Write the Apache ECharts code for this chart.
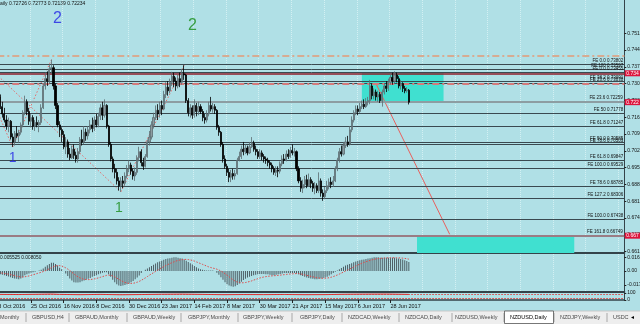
<!DOCTYPE html>
<html><head><meta charset="utf-8">
<script src="https://cdn.jsdelivr.net/npm/echarts@6/dist/echarts.min.js"></script>
<style>html,body{margin:0;padding:0;background:#b0e0e6;}#c{width:640px;height:324px;}</style>
</head><body><div id="c"></div>
<script>
// ---------- DATA ----------
const startDate = [2016, 9, 3];      // 3 Oct 2016, first daily bar
const totalSlots = 307;              // bars + empty future slots shown on the axis
// daily candles: [open, close, low, high]
const candles = [
[.7285,.7245,.7230,.7300],[.7245,.7205,.7195,.7255],[.7205,.7175,.7160,.7225],[.7175,.7150,.7140,.7200],
[.7150,.7125,.7110,.7170],[.7125,.7145,.7100,.7160],[.7145,.7080,.7070,.7150],[.7080,.7060,.7040,.7095],
[.7060,.7095,.7045,.7105],[.7095,.7085,.7075,.7125],[.7085,.7100,.7055,.7110],[.7100,.7130,.7090,.7140],
[.7130,.7180,.7120,.7190],[.7180,.7225,.7170,.7250],[.7225,.7185,.7170,.7235],[.7185,.7145,.7130,.7200],
[.7145,.7160,.7120,.7175],[.7160,.7125,.7110,.7170],[.7125,.7140,.7105,.7150],[.7140,.7130,.7120,.7165],
[.7130,.7140,.7100,.7150],[.7140,.7200,.7130,.7215],[.7200,.7290,.7195,.7300],[.7290,.7320,.7275,.7345],
[.7320,.7310,.7290,.7350],[.7310,.7360,.7300,.7380],[.7360,.7365,.7340,.7398],[.7365,.7290,.7275,.7375],
[.7290,.7210,.7195,.7300],[.7210,.7130,.7120,.7220],[.7130,.7110,.7080,.7145],[.7110,.7090,.7060,.7120],
[.7090,.7040,.7030,.7105],[.7040,.7060,.7010,.7080],[.7060,.7010,.6995,.7070],[.7010,.6995,.6985,.7035],
[.6995,.7030,.6990,.7045],[.7030,.7005,.6990,.7050],[.7005,.6990,.6975,.7020],[.6990,.7020,.6975,.7035],
[.7020,.7070,.7010,.7080],[.7070,.7060,.7045,.7110],[.7060,.7100,.7050,.7125],[.7100,.7085,.7065,.7115],
[.7085,.7110,.7070,.7125],[.7110,.7130,.7095,.7150],[.7130,.7115,.7100,.7160],[.7115,.7150,.7105,.7165],
[.7150,.7130,.7120,.7175],[.7130,.7165,.7120,.7180],[.7165,.7200,.7150,.7215],[.7200,.7170,.7150,.7225],
[.7170,.7210,.7160,.7235],[.7210,.7125,.7115,.7215],[.7125,.7050,.7040,.7130],[.7050,.6990,.6980,.7060],
[.6990,.6950,.6935,.7000],[.6950,.6935,.6910,.6970],[.6935,.6900,.6885,.6950],[.6900,.6880,.6860,.6915],
[.6880,.6900,.6855,.6915],[.6900,.6890,.6870,.6920],[.6890,.6920,.6880,.6935],[.6920,.6950,.6910,.6965],
[.6950,.6965,.6935,.6985],[.6965,.6940,.6925,.6975],[.6940,.6920,.6905,.6950],[.6920,.6935,.6900,.6955],
[.6935,.6995,.6925,.7005],[.6995,.7020,.6980,.7040],[.7020,.6975,.6960,.7030],[.6975,.6960,.6945,.6995],
[.6960,.7000,.6955,.7010],[.7000,.7060,.6995,.7070],[.7060,.7080,.7045,.7105],[.7080,.7130,.7070,.7145],
[.7130,.7160,.7115,.7180],[.7160,.7190,.7150,.7210],[.7190,.7175,.7150,.7215],[.7175,.7210,.7160,.7225],
[.7210,.7195,.7170,.7230],[.7195,.7255,.7190,.7270],[.7255,.7285,.7240,.7305],[.7285,.7270,.7250,.7310],
[.7270,.7305,.7260,.7320],[.7305,.7330,.7290,.7348],[.7330,.7310,.7285,.7345],[.7310,.7290,.7270,.7325],
[.7290,.7320,.7280,.7335],[.7320,.7305,.7285,.7345],[.7305,.7340,.7295,.7360],[.7340,.7335,.7315,.7375],
[.7335,.7230,.7220,.7340],[.7230,.7180,.7165,.7240],[.7180,.7200,.7160,.7215],[.7200,.7170,.7155,.7210],
[.7170,.7210,.7160,.7235],[.7210,.7185,.7165,.7220],[.7185,.7205,.7170,.7225],[.7205,.7185,.7175,.7215],
[.7185,.7160,.7145,.7195],[.7160,.7150,.7135,.7175],[.7150,.7175,.7140,.7190],[.7175,.7210,.7165,.7225],
[.7210,.7195,.7185,.7245],[.7195,.7205,.7180,.7220],[.7205,.7190,.7175,.7215],[.7190,.7120,.7110,.7195],
[.7120,.7100,.7085,.7130],[.7100,.7050,.7040,.7105],[.7050,.6990,.6975,.7060],[.6990,.6960,.6950,.7005],
[.6960,.6935,.6920,.6970],[.6935,.6915,.6895,.6950],[.6915,.6930,.6895,.6945],[.6930,.6920,.6905,.6950],
[.6920,.6930,.6905,.6945],[.6930,.6985,.6925,.6995],[.6985,.7000,.6980,.7020],[.7000,.7030,.6990,.7045],
[.7030,.7020,.7005,.7060],[.7020,.7035,.7010,.7050],[.7035,.7015,.7005,.7045],[.7015,.7040,.7010,.7060],
[.7040,.7055,.7035,.7080],[.7055,.7030,.7020,.7065],[.7030,.7020,.7005,.7045],[.7020,.7000,.6990,.7030],
[.7000,.7015,.6990,.7030],[.7015,.7000,.6985,.7025],[.7000,.6990,.6975,.7010],[.6990,.6985,.6970,.7000],
[.6985,.6975,.6960,.6995],[.6975,.6965,.6950,.6985],[.6965,.6950,.6935,.6975],[.6950,.6935,.6925,.6960],
[.6935,.6945,.6920,.6960],[.6945,.6940,.6915,.6960],[.6940,.6970,.6930,.6980],[.6970,.6990,.6960,.7005],
[.6990,.6985,.6970,.7010],[.6985,.7010,.6980,.7025],[.7010,.7000,.6990,.7030],[.7000,.7025,.6995,.7040],
[.7025,.7015,.7005,.7050],[.7015,.7020,.7000,.7035],[.7020,.6950,.6940,.7025],[.6950,.6900,.6890,.6960],
[.6900,.6870,.6855,.6915],[.6870,.6885,.6850,.6905],[.6885,.6905,.6870,.6920],[.6905,.6880,.6870,.6925],
[.6880,.6905,.6875,.6930],[.6905,.6890,.6870,.6915],[.6890,.6870,.6855,.6900],[.6870,.6880,.6845,.6895],
[.6880,.6860,.6850,.6890],[.6860,.6900,.6850,.6935],[.6900,.6850,.6835,.6910],[.6850,.6835,.6818,.6865],
[.6835,.6860,.6825,.6875],[.6860,.6880,.6850,.6900],[.6880,.6895,.6865,.6910],[.6895,.6885,.6870,.6915],
[.6885,.6900,.6875,.6920],[.6900,.6950,.6895,.6960],[.6950,.6985,.6940,.6995],[.6985,.7020,.6975,.7035],
[.7020,.7010,.7000,.7045],[.7010,.7045,.7005,.7060],[.7045,.7060,.7035,.7080],[.7060,.7050,.7040,.7085],
[.7050,.7110,.7045,.7125],[.7110,.7150,.7100,.7165],[.7150,.7180,.7140,.7190],[.7180,.7195,.7170,.7210],
[.7195,.7185,.7170,.7210],[.7185,.7205,.7180,.7220],[.7205,.7215,.7195,.7230],[.7215,.7205,.7195,.7235],
[.7205,.7225,.7200,.7240],[.7225,.7230,.7210,.7245],[.7230,.7290,.7215,.7315],[.7290,.7250,.7235,.7300],
[.7250,.7265,.7235,.7280],[.7265,.7245,.7230,.7275],[.7245,.7255,.7225,.7270],[.7255,.7230,.7220,.7265],
[.7230,.7265,.7205,.7275],[.7265,.7290,.7255,.7300],[.7290,.7280,.7265,.7310],[.7280,.7305,.7270,.7320],
[.7305,.7325,.7295,.7340],[.7325,.7310,.7295,.7345],[.7310,.7335,.7300,.7350],[.7335,.7320,.7305,.7345],
[.7320,.7290,.7280,.7330],[.7290,.7300,.7275,.7315],[.7300,.7280,.7265,.7305],[.7280,.7270,.7260,.7290],
[.7270,.72726,.7262,.7285],[.72726,.72234,.72139,.72773]
];
// oscillator (MACD-type), values in thousandths
const macdMain = [
-3.5,-4,-4.5,-5,-6,-6.5, -7.5,-8.5,-9,-9.5,-10, -9,-7.5,-5,-4,-3, -2,-1.5,-1,0,0.5,1.5,3, 5,7,8.5,10,
10,8.5,6.5,4,2, 0,-3,-6,-9,-11.5,-13.5, -14,-14,-13.5,-12.5,-11.5,-10.5,-9.5,-8.5,-7,-6,-5,-4,
-3,-2,-1.5,-1.5, -4,-7,-10.5,-13.5,-16,-17.5, -18,-17.5,-17,-16,-15,-13.5,-12,-10,-8,-5.5,-2.5,
0,1.5,3,4.5,6,7.5,9,10.5,11.5,12.5,13.5,14.5,15,15.5,16,16.5, 16.5,16,15.5,15,14,12.5,11,9.5,8,6,4.5,3,
2,1.5,1,0.5,0.5,0.5,0.5,0, -2,-4.5,-7.5,-10.5,-13.5,-16,-17.5,-18.5,-19, -18.5,-17,-15,-13,-11,-9.5,-8,-7,
-6,-5,-4.5,-4,-3.5,-3.5,-3.5,-4,-4,-4.5,-5,-5,-4.5,-4,-3.5,-3,-2.5,-2.5,-2.5, -2.5,-2.5,-2.5,-3,-4,
-5,-6,-7,-8,-8.5,-9,-9.5,-10,-10,-9.5, -9,-8.5,-8,-7,-5.5,-4,-2.5,
-1,0.5,2,3.5,5,6.5,7.5,8.5,9.5,10.5,11.5,12.5,13,13.5,14,14.5,15,15.5,16,
16.5,16.5,16.5,16,16,16,16,16,16,16,16, 15.5,15,14.5,14,13,12,11
];
const macdSignal = [
-2,-2.3,-2.6,-3,-3.4,-3.8,-4.3,-5,-5.6,-6.2,-6.8, -7.2,-7.3,-7,-6.5,-6,-5.2,-4.5,-3.8,-3,-2.3,-1.5,-0.7,
0.3,1.5,2.8,4,5.2,6,6.5,6.5,6, 5,3.8,2.3,0.5,-1.5,-3.5,-5.5,-7,-8.3,-9.3,-10,-10.3,-10.4,-10.3,-10,-9.5,-9,-8.3,
-7.6,-6.8,-6,-5.3,-5,-5.2,-6,-7,-8.5,-10, -11.5,-12.8,-13.8,-14.5,-15,-15,-14.8,-14.3,-13.5,-12.5,-11.3,
-9.8,-8.3,-6.7,-5,-3.5,-2,-0.5,1,2.5,4,5.3,6.6,7.8,9,10,11, 12,12.8,13.3,13.7,14,14,13.8,13.4,12.8,12,11,10,
9,8,7,6,5,4.2,3.5,3, 2.2,1.2,0,-1.5,-3.3,-5,-7,-9,-10.8, -12.3,-13.4,-14,-14.3,-14.2,-13.9,-13.4,-12.7,
-12,-11,-10.2,-9.3,-8.5,-7.8,-7.2,-6.8,-6.4,-6.1,-5.9,-5.7,-5.5,-5.3,-5,-4.7,-4.4,-4.1,-3.8,
-3.6,-3.4,-3.2,-3.1,-3.2, -3.5,-4,-4.6,-5.2,-5.8,-6.4,-7,-7.6,-8.1,-8.5, -8.7,-8.8,-8.7,-8.5,-8.1,-7.5,-6.7,
-5.8,-4.8,-3.7,-2.5,-1.3,0,1.2,2.4,3.6,4.8,6,7.2,8.3,9.3,10.3,11.2,12,12.8,13.5,
14.1,14.6,15,15.3,15.5,15.7,15.8,15.9,16,16,16, 16,15.9,15.7,15.5,15.2,14.8,14.3
];
// lower oscillator (0..100), sampled points [barIndex, value]
const lowerOsc = [[0,80],[10,78],[20,82],[26,85],[30,80],[40,76],[50,80],[60,75],[70,78],[80,82],[90,84],[100,80],
 [110,76],[120,78],[130,77],[140,79],[150,76],[160,77],[170,82],[180,84],[190,85],[201,80]];
const lowerLevels = [80, 20];
// horizontal Fibonacci-expansion levels
const feValues = [0.73802,0.73597,0.73455,0.73091,0.73030,0.71778,0.71247,0.70585,0.70503,0.69847,0.69529,0.68785,0.68306,0.67438];
const feLabels = ['FE 0.0 0.73802','FE 100 0.73597','FE 0.0 0.73455','FE 38.2 0.73091','FE 23.6 0.73030','FE 50 0.71778',
 'FE 61.8 0.71247','FE 50.0 0.70585','FE 78.6 0.70503','FE 61.8 0.69847','FE 100.0 0.69529','FE 78.6 0.68785','FE 127.2 0.68306','FE 100.0 0.67438'];
const feGrayValue = 0.72259, feGrayLabel = 'FE 23.6 0.72259';
const fePinkValue = 0.66749, fePinkLabel = 'FE 161.8 0.66749';
const dashDotTan = 0.74143, dashDotRed = 0.72985, redLevel = 0.73420;
const priceBoxes = [[0.73420,'0.734'],[0.72234,'0.722'],[0.66749,'0.667']];
// price axis ticks
const priceTicks = [0.75063,0.74373,0.73683,0.72993,0.72302,0.71612,0.70922,0.70232,0.69542,0.68851,0.68161,0.67471,0.66781,0.66091];
const priceTickLabels = ['0.751','0.744','0.737','0.730','0.723','0.716','0.709','0.702','0.695','0.688','0.681','0.674','0.667','0.661'];
const oscTicks = [16.3, 0, -17], oscTickLabels = ['0.0163','0.00','-0.017'];
const lowTicks = [100, 0], lowTickLabels = ['100','0'];
// objects on the chart (bar index, price)
const zones = [[[178,0.73473],[218,0.72241]], [[205,0.66735],[282,0.66037]]];
const projection = [[185,0.72980],[221,0.66805]];
const waveLines = [[[0,0.7175],[7,0.7039]], [[7,0.7039],[26,0.7398]], [[0,0.7330],[60,0.6855]], [[60,0.6855],[91,0.7375]]];
const waveMarks = [[29,0.7565,'2','blue'],[95,0.7540,'2','green'],[7,0.6994,'1','blue'],[59,0.6789,'1','green']];
const headerText = 'aily 0.72726 0.72773 0.72139 0.72234';
const oscHeader = '0.005525 0.008050';
const tabs = ['Monthly','GBPUSD,H4','GBPAUD,Monthly','GBPAUD,Weekly','GBPJPY,Monthly','GBPJPY,Weekly','GBPJPY,Daily',
 'NZDCAD,Weekly','NZDCAD,Daily','NZDUSD,Weekly','NZDUSD,Daily','NZDJPY,Weekly','USDC'];
const activeTab = 'NZDUSD,Daily';

// ---------- LAYOUT ----------
const tabX = [0,32,75,133,188,243,300,348,405,455,510,560,613];
const tabSep = [26,69,127,181,238,292,342,399,452,504,554,607];
const months = ['Jan','Feb','Mar','Apr','May','Jun','Jul','Aug','Sep','Oct','Nov','Dec'];
const dates = [];
{ const d = new Date(Date.UTC(startDate[0], startDate[1], startDate[2]));
  while (dates.length < totalSlots) { const w = d.getUTCDay();
    if (w !== 0 && w !== 6) dates.push(d.getUTCDate() + ' ' + months[d.getUTCMonth()] + ' ' + d.getUTCFullYear());
    d.setUTCDate(d.getUTCDate() + 1); } }
const nBars = candles.length;
const labelEvery = (i) => i % 16 === 0 && i < nBars;
const FONT = 'Liberation Sans, Arial, sans-serif';
const lookup = (vals, labs) => (v) => { for (let i = 0; i < vals.length; i++) if (Math.abs(vals[i] - v) < 1e-6) return labs[i]; return ''; };
const DARK = '#34434a';
const G = {left: -2.7, right: 15.7, outerBoundsMode: 'none', containLabel: false};

function xAx(i) {
  const last = i === 2;
  return {type: 'category', gridIndex: i, data: dates, boundaryGap: true,
    axisLine: {show: true, onZero: false, lineStyle: {color: DARK, width: last ? 1.5 : 2}},
    axisTick: {show: last, interval: labelEvery, alignWithLabel: true, length: 3, lineStyle: {color: '#222'}},
    axisLabel: {show: last, interval: labelEvery, align: 'left', fontSize: 5.5, color: '#111', margin: 3, fontFamily: FONT},
    splitLine: {show: !last, interval: 15, lineStyle: {color: 'rgba(235,250,252,0.6)', width: 1, type: 'dotted'}}};
}
function yAx(i, min, max, ticks, labels) {
  return {type: 'value', gridIndex: i, position: 'right', min: min, max: max,
    axisLine: {show: true, lineStyle: {color: DARK, width: 1}},
    axisTick: {show: true, customValues: ticks, length: 2, lineStyle: {color: '#222'}},
    axisLabel: {customValues: ticks, formatter: lookup(ticks, labels), fontSize: 5, color: '#111', margin: 3, fontFamily: FONT},
    splitLine: {show: false}};
}

const lineItems = [];
feValues.forEach((v, i) => lineItems.push({yAxis: v, lineStyle: {color: '#3a4950', width: 1, type: 'solid'},
  label: {show: true, position: 'insideEndTop', formatter: feLabels[i], fontSize: 4.5, color: '#111', distance: 1, fontFamily: FONT}}));
lineItems.push({yAxis: feGrayValue, lineStyle: {color: '#8d9da2', width: 2, type: 'solid'},
  label: {show: true, position: 'insideEndTop', formatter: feGrayLabel, fontSize: 4.5, color: '#111', distance: 1.5, fontFamily: FONT}});
lineItems.push({yAxis: fePinkValue, lineStyle: {color: '#9a7c84', width: 2, type: 'solid'},
  label: {show: true, position: 'insideEndTop', formatter: fePinkLabel, fontSize: 4.5, color: '#111', distance: 1.5, fontFamily: FONT}});
lineItems.push({yAxis: dashDotTan, lineStyle: {color: '#d6ab92', width: 2, type: [7, 3, 2, 3]}, label: {show: false}});
lineItems.push({yAxis: dashDotRed, lineStyle: {color: '#d47a7a', width: 2, type: [7, 3, 2, 3]}, label: {show: false}});
lineItems.push({yAxis: redLevel, lineStyle: {color: '#8e1c28', width: 1.5, type: 'solid'}, label: {show: false}});
priceBoxes.forEach(b => lineItems.push({yAxis: b[0], lineStyle: {color: 'rgba(0,0,0,0)', width: 0},
  label: {show: true, position: 'end', formatter: b[1], fontSize: 5, color: '#fff', backgroundColor: '#dc143c',
    padding: [0.5, 3, 0.5, 1.5], distance: 0.5, fontFamily: FONT}}));

const waveColors = {blue: '#1f1fe6', green: '#168c16'};
const series = [
  {type: 'line', xAxisIndex: 0, yAxisIndex: 0, data: [], z: 1, silent: true,
   markArea: {silent: true, itemStyle: {color: '#40e0d0', opacity: 1},
     data: zones.map(z => [{xAxis: z[0][0], yAxis: z[0][1]}, {xAxis: z[1][0], yAxis: z[1][1]}])}},
  {type: 'line', xAxisIndex: 0, yAxisIndex: 0, data: [], z: 2, silent: true,
   markLine: {silent: true, precision: 6, symbol: ['none', 'none'], animation: false, data: lineItems}},
];
waveLines.forEach(w => series.push({type: 'line', xAxisIndex: 0, yAxisIndex: 0, data: w, z: 3, symbol: 'none', silent: true,
  lineStyle: {color: '#e46a6a', width: 1, type: [1.5, 2]}}));
series.push({type: 'line', xAxisIndex: 0, yAxisIndex: 0, data: projection, z: 3, symbol: 'none', silent: true,
  lineStyle: {color: '#e8605e', width: 1}});
series.push({type: 'candlestick', xAxisIndex: 0, yAxisIndex: 0, data: candles, z: 5, barWidth: 1.6,
  itemStyle: {color: '#8c9ca1', color0: '#000', borderColor: '#5c6c71', borderColor0: '#000', borderWidth: 0.8}});
series.push({type: 'scatter', xAxisIndex: 0, yAxisIndex: 0, z: 6, symbolSize: 0, silent: true,
  data: waveMarks.map(m => ({value: [m[0], m[1]], label: {show: true, position: 'inside', formatter: m[2],
    color: waveColors[m[3]], fontSize: m[2] === '2' ? 16 : 14, fontFamily: FONT}}))});
series.push({type: 'bar', xAxisIndex: 1, yAxisIndex: 1, data: macdMain, barWidth: 1, silent: true,
  itemStyle: {color: '#4c5d64'}});
series.push({type: 'line', xAxisIndex: 1, yAxisIndex: 1, data: macdSignal, symbol: 'none', silent: true,
  lineStyle: {color: '#e04a4a', width: 1, type: [1.5, 1.5]}});
series.push({type: 'line', xAxisIndex: 2, yAxisIndex: 2, data: lowerOsc, symbol: 'none', silent: true,
  lineStyle: {color: '#e02828', width: 1},
  markLine: {silent: true, precision: 2, symbol: ['none', 'none'], label: {show: false},
    lineStyle: {color: '#e03c3c', width: 1, type: [1.5, 1.5]}, data: lowerLevels.map(v => ({yAxis: v}))}});

const graphic = [
  {type: 'text', left: 0, top: 1.5, silent: true, style: {text: headerText, fontSize: 5, fill: '#111', fontFamily: FONT}},
  {type: 'text', left: 0, top: 255.5, silent: true, style: {text: oscHeader, fontSize: 4.8, fill: '#111', fontFamily: FONT}},
  {type: 'rect', left: 0, top: 311, silent: true, shape: {width: 640, height: 13}, style: {fill: '#eeeeee'}},
  {type: 'line', silent: true, shape: {x1: 0, y1: 311, x2: 640, y2: 311}, style: {stroke: '#c8c8c8', lineWidth: 1}},
];
tabSep.forEach(x => graphic.push({type: 'line', silent: true, shape: {x1: x, y1: 313, x2: x, y2: 322}, style: {stroke: '#a8a8a8', lineWidth: 1}}));
tabs.forEach((t, i) => {
  if (t === activeTab) graphic.push({type: 'rect', silent: true, shape: {x: tabSep[i - 1] + 0.5, y: 311, width: tabSep[i] - tabSep[i - 1] - 1, height: 12.5},
    style: {fill: '#ffffff', stroke: '#555', lineWidth: 0.8}});
  graphic.push({type: 'text', silent: true, x: tabX[i], y: 317.7, style: {text: t, fontSize: 5.5, fill: t === activeTab ? '#000' : '#4a4a4a',
    fontFamily: FONT, verticalAlign: 'middle'}});
});
graphic.push({type: 'text', silent: true, x: 631, y: 317.7, style: {text: '◂', fontSize: 6, fill: '#000', verticalAlign: 'middle'}});

const chart = echarts.init(document.getElementById('c'), null, {renderer: 'canvas'});
chart.setOption({
  animation: false,
  backgroundColor: '#b0e0e6',
  textStyle: {fontFamily: FONT},
  grid: [
    Object.assign({top: 0, height: 253}, G),
    Object.assign({top: 254, height: 38}, G),
    Object.assign({top: 293, height: 7}, G)
  ],
  xAxis: [xAx(0), xAx(1), xAx(2)],
  yAxis: [
    yAx(0, 0.66037, 0.76431, priceTicks, priceTickLabels),
    yAx(1, -25.36, 20.53, oscTicks, oscTickLabels),
    yAx(2, 0, 100, lowTicks, lowTickLabels)
  ],
  series: series,
  graphic: graphic
});
</script>
</body></html>
